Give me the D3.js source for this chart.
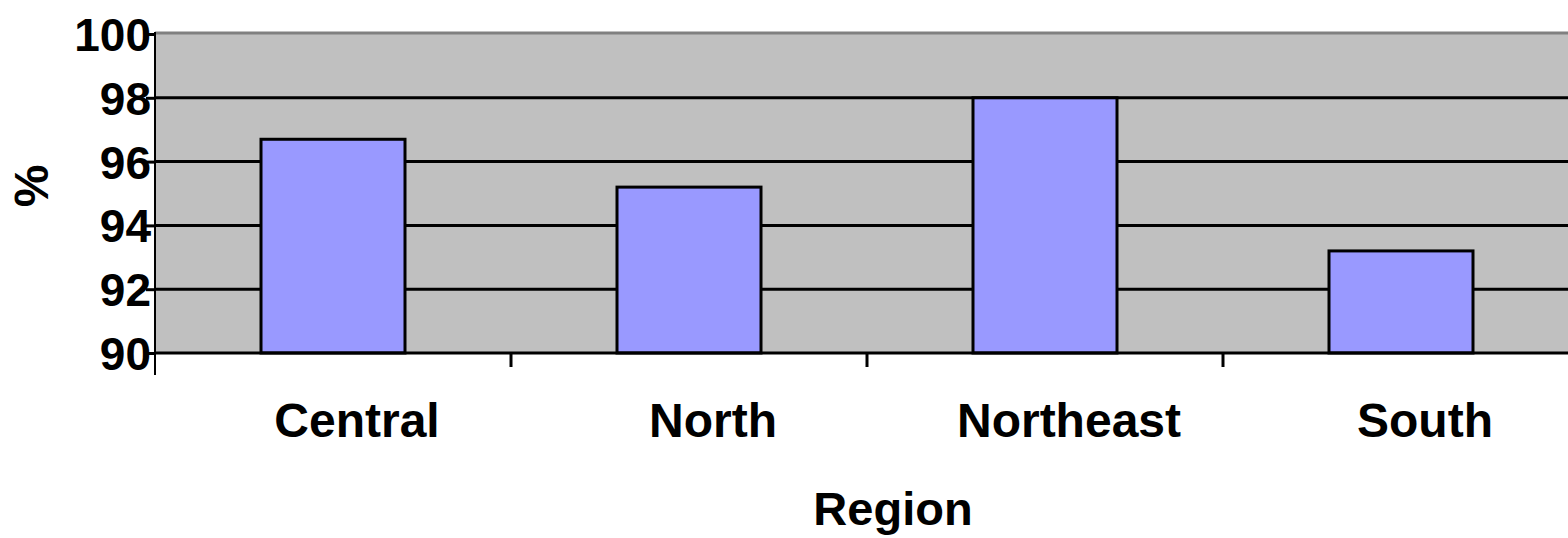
<!DOCTYPE html>
<html>
<head>
<meta charset="utf-8">
<script src="https://cdn.jsdelivr.net/npm/d3@7"></script>
<style>
  body { margin: 0; background: #fff; }
  text { font-family: "Liberation Sans", Arial, sans-serif; font-weight: bold; }
</style>
</head>
<body>
<div id="chart"></div>
<script>
// data
var regions = ["Central", "North", "Northeast", "South"];
var percents = [96.7, 95.2, 98.0, 93.2];
var yTicks = [90, 92, 94, 96, 98, 100];

var svgWidth = 1568, svgHeight = 538;
var margin = { top: 34, right: -11, bottom: 185, left: 155 };
var width = svgWidth - margin.left - margin.right;
var height = svgHeight - margin.top - margin.bottom;
var fontSize = '48px';

var svg = d3.select('#chart').append('svg')
    .attr('width', svgWidth)
    .attr('height', svgHeight)
    .style('display', 'block');

var g = svg.append('g')
    .attr('transform', `translate(${margin.left}, ${margin.top})`);

// scales
var x = d3.scaleBand().domain(regions).range([0, width]).paddingInner(0.595).paddingOuter(0.2975);
var y = d3.scaleLinear().domain([90, 100]).range([height, 0]);

// plot background
g.append('rect')
    .attr('x', 0).attr('y', y(100) - 1)
    .attr('width', width).attr('height', height - y(100) + 1)
    .style('fill', '#c0c0c0');

// top border of plot area
g.append('line')
    .attr('x1', 0).attr('x2', width)
    .attr('y1', y(100) - 1).attr('y2', y(100) - 1)
    .style('stroke', '#808080').style('stroke-width', 3);

// gridlines
g.selectAll('.grid')
    .data(yTicks.filter(d => d > 90 && d < 100))
    .enter().append('line')
    .attr('class', 'grid')
    .attr('x1', 0).attr('x2', width)
    .attr('y1', d => y(d)).attr('y2', d => y(d))
    .style('stroke', '#000').style('stroke-width', 3);

// bars
var barW = 144;
g.selectAll('.bar')
    .data(regions)
    .enter().append('rect')
    .attr('class', 'bar')
    .attr('x', d => x(d) + x.bandwidth() / 2 - barW / 2)
    .attr('y', (d, i) => y(percents[i]))
    .attr('width', barW)
    .attr('height', (d, i) => height - y(percents[i]))
    .style('fill', '#9999ff')
    .style('stroke', '#000')
    .style('stroke-width', 3);

// y axis
var yAxis = g.append('g')
    .call(d3.axisLeft(y).tickValues(yTicks).tickSize(9).tickPadding(-5));
yAxis.select('.domain').remove();
yAxis.append('line')
    .attr('x1', 0).attr('x2', 0)
    .attr('y1', y(100) - 2).attr('y2', height + 22)
    .style('stroke', '#000').style('stroke-width', 2);
yAxis.selectAll('.tick line').style('stroke', '#000').style('stroke-width', 3);
yAxis.selectAll('.tick text')
    .style('font-size', '46px').style('fill', '#000')
    .attr('dy', '0.36em');

// x axis line and category separators
g.append('line')
    .attr('x1', 0).attr('x2', width)
    .attr('y1', height).attr('y2', height)
    .style('stroke', '#000').style('stroke-width', 3);
g.selectAll('.sep')
    .data(regions.slice(1))
    .enter().append('line')
    .attr('class', 'sep')
    .attr('x1', d => x(d) - x.step() * x.paddingInner() / 2)
    .attr('x2', d => x(d) - x.step() * x.paddingInner() / 2)
    .attr('y1', height).attr('y2', height + 14)
    .style('stroke', '#000').style('stroke-width', 3);

// category labels (sit a little right of the bar centres in the original)
g.selectAll('.cat')
    .data(regions)
    .enter().append('text')
    .attr('class', 'cat')
    .attr('x', d => x(d) + x.bandwidth() / 2 + 24)
    .attr('y', height + 84)
    .attr('text-anchor', 'middle')
    .style('font-size', fontSize)
    .text(d => d);

// axis titles
svg.append('text')
    .attr('x', 893).attr('y', 525)
    .attr('text-anchor', 'middle')
    .style('font-size', '47px')
    .text('Region');

svg.append('text')
    .attr('transform', 'translate(48, 186) rotate(-90)')
    .attr('text-anchor', 'middle')
    .style('font-size', fontSize)
    .text('%');
</script>
</body>
</html>
